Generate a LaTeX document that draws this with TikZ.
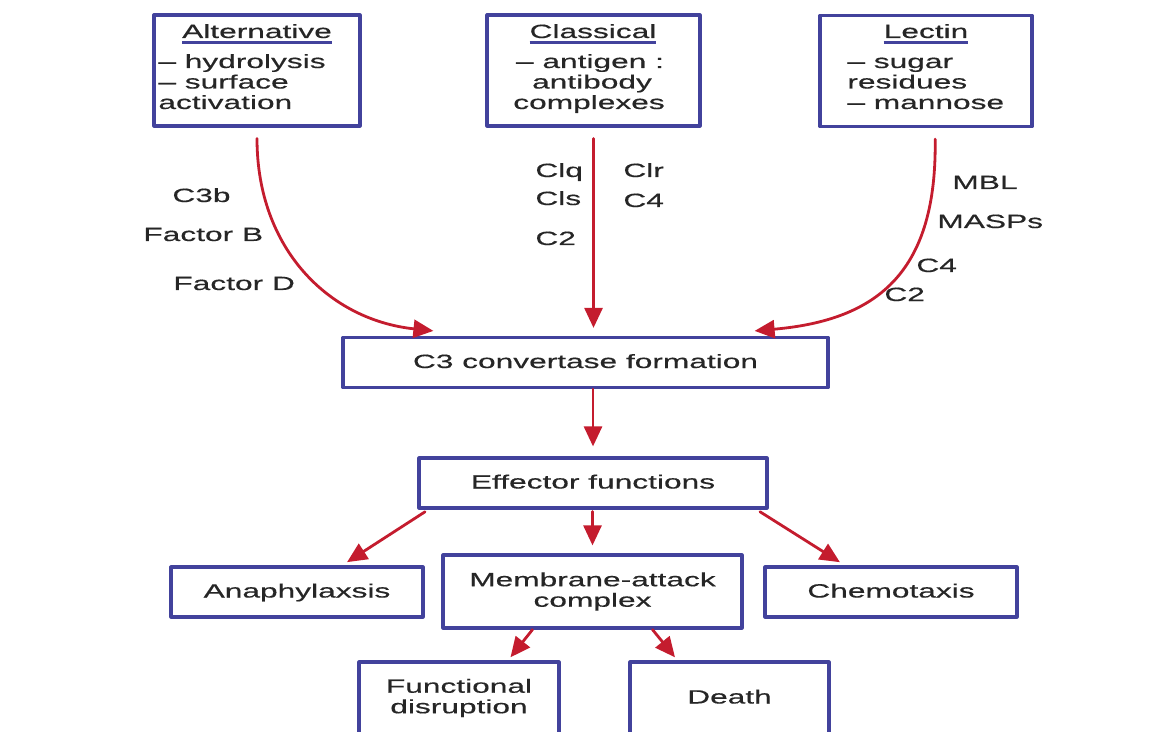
\documentclass[tikz,border=0pt]{standalone}
\usepackage{fontspec}
\setmainfont{Liberation Sans}[FakeStretch=1.65, FakeBold=0.4]
\usepackage{tikz}
\usetikzlibrary{arrows.meta, calc, positioning}
\definecolor{slateblue}{RGB}{66, 66, 156}
\definecolor{bloodred}{RGB}{196, 28, 46}
\definecolor{inkgray}{RGB}{38, 38, 38}
\newcommand{\pathtitle}[1]{\setbox0\hbox{#1}\rlap{\color{slateblue}\rule[-3pt]{\wd0}{1.4pt}}\box0}

\begin{document}
\begin{tikzpicture}[x=0.5pt, y=-0.5pt, line cap=round, line join=round, >={Triangle[length=10pt,width=9pt]},
	box/.style={draw=slateblue, line width=1.6pt, fill=white, inner sep=0pt, text=inkgray, align=center, font=\fontsize{9.6}{10.25}\selectfont},
	onebox/.style={box, text height=7pt, text depth=1.5pt},
	lbl/.style={text=inkgray, inner sep=0pt, font=\fontsize{9.6}{10.25}\selectfont},
	flow/.style={->, draw=bloodred, line width=1.4pt}]
		% page
		\useasboundingbox (0,0) rectangle (1165,732);
		\clip (0,0) rectangle (1165,732);
		
		% pathway boxes
		\node[box, minimum width=103pt, minimum height=55.5pt] (alt) at (257,70.5) {};
		\node[box, minimum width=106.5pt, minimum height=55.5pt] (classic) at (593.5,70.5) {};
		\node[box, minimum width=106pt, minimum height=55.5pt] (lectin) at (926,71) {};
		
		\node[lbl, anchor=base] (altTitle) at (257,38) {\pathtitle{Alternative}};
		\node[lbl, anchor=base west] (alt1) at (158,68) {-- hydrolysis};
		\node[lbl, anchor=base west] (alt2) at (158,88.5) {-- surface};
		\node[lbl, anchor=base west] (alt3) at (158,109) {activation};
		
		\node[lbl, anchor=base] (classicTitle) at (593,38) {\pathtitle{Classical}};
		\node[lbl, anchor=base] (classic1) at (590,68) {-- antigen :};
		\node[lbl, anchor=base] (classic2) at (592,88.5) {antibody};
		\node[lbl, anchor=base] (classic3) at (589,109) {complexes};
		
		\node[lbl, anchor=base] (lectinTitle) at (926,38) {\pathtitle{Lectin}};
		\node[lbl, anchor=base west] (lectin1) at (847,68) {-- sugar};
		\node[lbl, anchor=base west] (lectin2) at (847,88.5) {residues};
		\node[lbl, anchor=base west] (lectin3) at (847,109) {-- mannose};
		
		% cascade boxes
		\node[onebox, minimum width=242.5pt, minimum height=25pt] (conv) at (585.5,362.5) {C3 convertase formation};
		\node[onebox, minimum width=174pt, minimum height=25pt] (effector) at (593,483) {Effector functions};
		\node[onebox, minimum width=126pt, minimum height=25pt] (anaph) at (297,592) {Anaphylaxsis};
		\node[box, minimum width=149.5pt, minimum height=36.5pt] (mac) at (592.5,591.5) {Membrane-attack\\complex};
		\node[onebox, minimum width=126pt, minimum height=25pt] (chemo) at (891,592) {Chemotaxis};
		\node[box, minimum width=100pt, minimum height=36pt] (disrupt) at (459,698) {Functional\\disruption};
		\node[onebox, minimum width=99.5pt, minimum height=36pt] (death) at (729.5,698) {Death};
		
		% factors along the arrows
		\node[lbl, anchor=base west] (c3b) at (172,202) {C3b};
		\node[lbl, anchor=base west] (facB) at (143,241) {Factor B};
		\node[lbl, anchor=base west] (facD) at (173,290) {Factor D};
		
		\node[lbl, anchor=base west] (clq) at (535,177) {Clq};
		\node[lbl, anchor=base west] (cls) at (535,205) {Cls};
		\node[lbl, anchor=base west] (c2a) at (535,245) {C2};
		\node[lbl, anchor=base west] (clr) at (623,177) {Clr};
		\node[lbl, anchor=base west] (c4a) at (623,207) {C4};
		
		\node[lbl, anchor=base west] (mbl) at (952,189) {MBL};
		\node[lbl, anchor=base west] (masp) at (937,228) {MASPs};
		\node[lbl, anchor=base west] (c4b) at (916,272) {C4};
		\node[lbl, anchor=base west] (c2b) at (884,301) {C2};
		
		% arrows
		\draw[flow, shorten <=5.5pt] (alt.south) .. controls (257,250) and (330,320) .. ($(conv.north west)+(92,-5)$);
		\draw[flow, shorten <=5.5pt, shorten >=4pt] (classic.south) -- (classic.south |- conv.north);
		\draw[flow, shorten <=5.5pt] ($(lectin.south)+(9,0)$) .. controls (937,270) and (880,320) .. ($(conv.north east)+(-75,-5)$);
		
		\draw[flow, shorten >=5pt] (conv.south -| effector.north) -- (effector.north);
		\draw[flow, shorten <=1pt, shorten >=4pt] (effector.south -| mac.north) -- (mac.north);
		\draw[flow, shorten <=2pt, shorten >=3pt] ($(effector.south west)+(11,0)$) -- ($(anaph.north)+(45,0)$);
		\draw[flow, shorten <=2pt, shorten >=3pt] ($(effector.south east)+(-12,0)$) -- ($(chemo.north)+(-46,0)$);
		
		\draw[flow, shorten >=2pt] ($(mac.south)+(-60,0)$) -- ($(disrupt.north)+(49,0)$);
		\draw[flow, shorten >=2pt] ($(mac.south)+(60,0)$) -- ($(death.north)+(-52,0)$);

\end{tikzpicture}
\end{document}
